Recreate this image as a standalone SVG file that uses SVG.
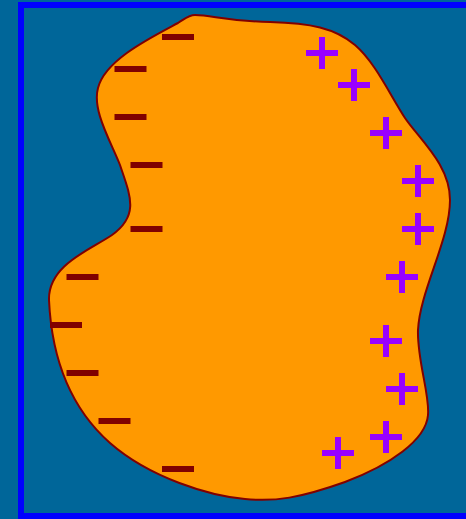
<svg xmlns="http://www.w3.org/2000/svg" width="466" height="519" viewBox="0 0 466 519">
<defs>
<style>
.minus{fill:#800000}
.plus{fill:#9900FF}
</style>
<g id="m"><rect class="minus" x="-16" y="-3" width="32" height="6"/></g>
<g id="p"><rect class="plus" x="-16" y="-3" width="32" height="6"/><rect class="plus" x="-3" y="-16" width="6" height="32"/></g>
</defs>
<rect x="0" y="0" width="466" height="519" fill="#006699"/>
<rect id="frame" x="21" y="5" width="470" height="511" fill="none" stroke="#0000FF" stroke-width="6"/>
<g id="body">
<path d="M 195,15 C 212,15 225,21 270,22 C 310,23 335,28 355,45 C 375,62 390,95 405,118 C 420,140 450,165 450,200 C 450,240 420,290 418,330 C 417,360 430,395 428,415 C 426,440 390,465 345,482 C 300,498 275,502 245,499 C 210,496 150,478 110,443 C 75,412 52,365 49,300 C 48,265 90,250 112,235 C 140,215 130,195 120,165 C 110,140 92,110 98,88 C 105,60 150,38 178,23 C 186,18 189,15 195,15 Z" fill="#FF9900" stroke="#800000" stroke-width="2"/>
</g>
<g id="negatives">
<use href="#m" x="178" y="37"/>
<use href="#m" x="130.5" y="69"/>
<use href="#m" x="130.5" y="117"/>
<use href="#m" x="146.5" y="165"/>
<use href="#m" x="146.5" y="229"/>
<use href="#m" x="82.5" y="277"/>
<use href="#m" x="66" y="325"/>
<use href="#m" x="82.5" y="373"/>
<use href="#m" x="114.5" y="421"/>
<use href="#m" x="178" y="469"/>
</g>
<g id="positives">
<use href="#p" x="322" y="53"/>
<use href="#p" x="354" y="85"/>
<use href="#p" x="386" y="133"/>
<use href="#p" x="418" y="181"/>
<use href="#p" x="418" y="229"/>
<use href="#p" x="402" y="277"/>
<use href="#p" x="386" y="341"/>
<use href="#p" x="402" y="389"/>
<use href="#p" x="386" y="437"/>
<use href="#p" x="338" y="453"/>
</g>
</svg>
